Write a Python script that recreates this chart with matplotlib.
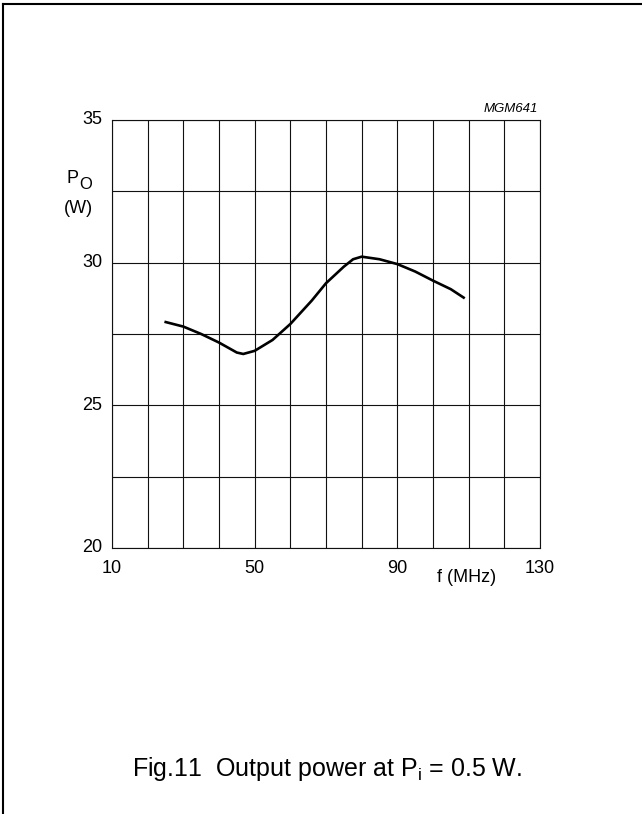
import matplotlib
matplotlib.use("Agg")
import matplotlib.pyplot as plt
from matplotlib.lines import Line2D

plt.rcParams['font.family'] = ['Liberation Sans', 'DejaVu Sans']

# curve
freq = [24.7, 30, 35, 40, 45, 46.8, 50, 55, 60, 66, 70, 75, 77.6, 80, 85, 90, 95, 100, 105, 108.9]
power = [27.93, 27.76, 27.5, 27.2, 26.85, 26.8, 26.91, 27.29, 27.85, 28.67, 29.28, 29.86,
         30.12, 30.21, 30.12, 29.95, 29.69, 29.37, 29.07, 28.75]

x_labels = ["10", "50", "90", "130"]
x_label_pos = [10, 50, 90, 130]
y_labels = ["20", "25", "30", "35"]
y_label_pos = [20, 25, 30, 35]

W, H = 642, 814
fig = plt.figure(figsize=(W / 100, H / 100), dpi=100)

def fx(px):
    return px / W

def fy(py):
    return 1 - py / H

ax = fig.add_axes([fx(112), fy(548), fx(540) - fx(112), fy(120) - fy(548)])
ax.plot(freq, power, color="black", linewidth=1.9, solid_capstyle="butt", solid_joinstyle="round")
ax.set_xlim(10, 130)
ax.set_ylim(20, 35)

ax.set_xticks(range(10, 131, 10))
ax.set_yticks([20 + 2.5 * i for i in range(7)])
ax.grid(True, color="#111111", linewidth=0.8)
ax.tick_params(length=0, labelbottom=False, labelleft=False)
for s in ax.spines.values():
    s.set_linewidth(0.8)
    s.set_color("#111111")

for v, t in zip(x_label_pos, x_labels):
    ax.annotate(t, (v, 20), xytext=(0, -12), textcoords="offset pixels",
                ha="center", va="top", fontsize=13)
for v, t in zip(y_label_pos, y_labels):
    ax.annotate(t, (10, v), xytext=(-10, 0), textcoords="offset pixels",
                ha="right", va="center", fontsize=13)

fig.text(fx(467), fy(582), "f (MHz)", ha="center", va="baseline", fontsize=13)
fig.text(fx(66), fy(183), "P", ha="left", va="baseline", fontsize=13)
fig.text(fx(79), fy(189), "O", ha="left", va="baseline", fontsize=12)
fig.text(fx(78), fy(213), "(W)", ha="center", va="baseline", fontsize=13)
fig.text(fx(538), fy(112), "MGM641", ha="right", va="baseline", fontsize=9.5, style="italic")

fig.text(fx(327), fy(776), r"Fig.11  Output power at P$_\mathregular{i}$ = 0.5 W.",
         ha="center", va="baseline", fontsize=18)

# page frame (left and top edges only)
fig.add_artist(Line2D([fx(3), fx(3)], [fy(4), 0], color="black", linewidth=1.5))
fig.add_artist(Line2D([fx(3), 1], [fy(4), fy(4)], color="black", linewidth=1.5))

fig.savefig("out.png", dpi=100)
